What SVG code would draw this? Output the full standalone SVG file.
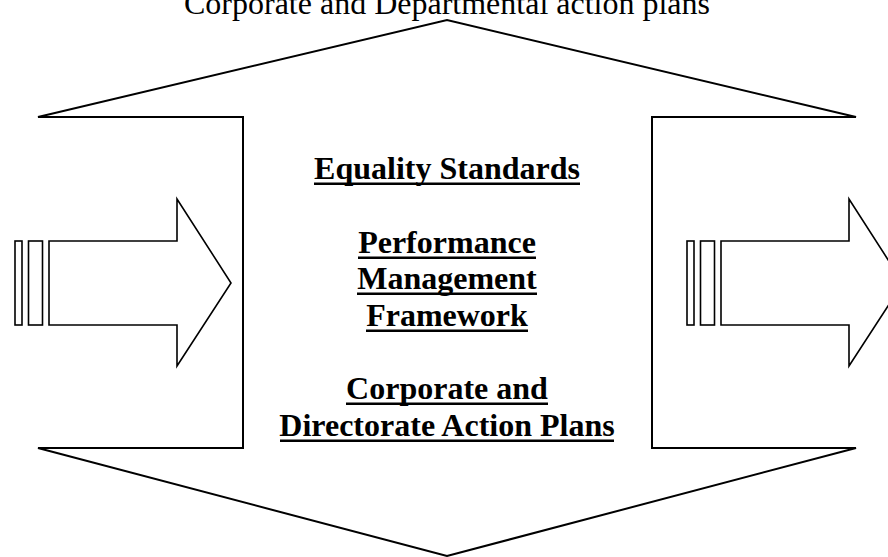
<svg xmlns="http://www.w3.org/2000/svg" width="888" height="557" viewBox="0 0 888 557">
  <defs>
    <style>
      .outline { fill: #ffffff; stroke: #000000; stroke-width: 2; stroke-linejoin: miter; }
      .arrow { fill: #ffffff; stroke: #000000; stroke-width: 1.6; stroke-linejoin: miter; }
      .caption { font-family: "Liberation Serif", "Times New Roman", serif; font-size: 32px; fill: #000000; }
      .body { font-family: "Liberation Serif", "Times New Roman", serif; font-size: 32px; font-weight: bold; fill: #000000; }
      .rule { fill: #000000; }
    </style>
    <!-- striped block arrow pointing right, drawn at the origin of the left copy -->
    <g id="striped-arrow">
      <rect class="arrow" x="15" y="241" width="7" height="84"/>
      <rect class="arrow" x="28.5" y="241" width="14" height="84"/>
      <polygon class="arrow" points="49,241 177,241 177,199 231,283 177,366 177,325 49,325"/>
    </g>
  </defs>

  <rect width="888" height="557" fill="#ffffff"/>

  <!-- double-headed up/down outline with a broad shaft -->
  <g id="frame">
    <polygon class="outline" points="243,117 38,117 447,20 856,117 652,117 652,448 856,448 447,556 38,448 243,448"/>
  </g>

  <g id="caption">
    <text class="caption" x="447" y="14" text-anchor="middle">Corporate and Departmental action plans</text>
  </g>

  <g id="arrow-left">
    <use href="#striped-arrow"/>
  </g>

  <g id="arrow-right">
    <use href="#striped-arrow" transform="translate(672,0)"/>
  </g>

  <g id="centre-text">
    <text class="body" x="447" y="179" text-anchor="middle">Equality Standards</text>
    <rect class="rule" x="314" y="182.5" width="266" height="2.5"/>
    <text class="body" x="447" y="253" text-anchor="middle">Performance</text>
    <rect class="rule" x="358" y="256.5" width="178" height="2.5"/>
    <text class="body" x="447" y="289" text-anchor="middle">Management</text>
    <rect class="rule" x="357" y="292.5" width="180" height="2.5"/>
    <text class="body" x="447" y="326" text-anchor="middle">Framework</text>
    <rect class="rule" x="366" y="329.5" width="162" height="2.5"/>
    <text class="body" x="447" y="399" text-anchor="middle">Corporate and</text>
    <rect class="rule" x="346" y="402.5" width="202" height="2.5"/>
    <text class="body" x="447" y="436" text-anchor="middle">Directorate Action Plans</text>
    <rect class="rule" x="280" y="439.5" width="334" height="2.5"/>
  </g>

  <g id="connectors"></g>
</svg>
